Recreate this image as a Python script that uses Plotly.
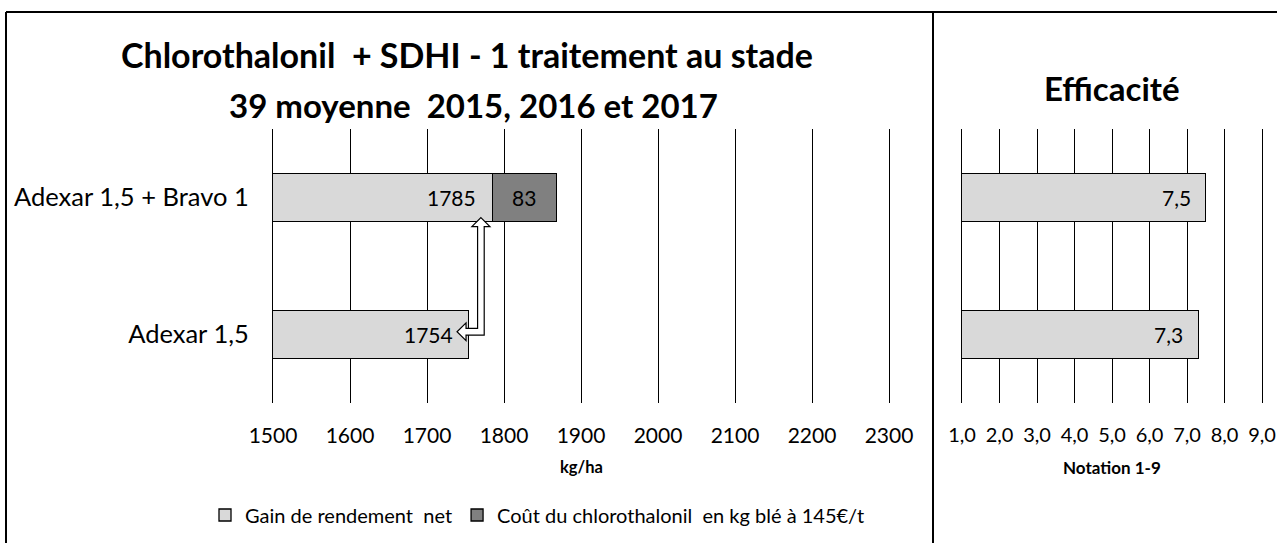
import plotly.graph_objects as go

# ---- data ----
categories = ["Adexar 1,5", "Adexar 1,5 + Bravo 1"]
gain_net = [1754, 1785]
cout_chloro = [0, 83]
efficacite = [7.3, 7.5]
x_ticks_left = [1500, 1600, 1700, 1800, 1900, 2000, 2100, 2200, 2300]
x_ticks_right = [1, 2, 3, 4, 5, 6, 7, 8, 9]

FONT = "Lato"
W, H = 1277, 543


def px(x):
    return x / W


def py(y):
    return (H - y) / H


ypos = list(range(len(categories)))

fig = go.Figure()
fig.add_trace(go.Bar(
    y=ypos, x=gain_net, orientation="h", name="Gain de rendement  net",
    marker=dict(color="#d9d9d9", line=dict(color="black", width=1.3)),
    width=0.35, xaxis="x", yaxis="y", hoverinfo="x"))
fig.add_trace(go.Bar(
    y=ypos[1:], x=cout_chloro[1:], orientation="h",
    name="Coût du chlorothalonil  en kg blé à 145€/t",
    marker=dict(color="#808080", line=dict(color="black", width=1.3)),
    width=0.35, xaxis="x", yaxis="y", hoverinfo="x"))
fig.add_trace(go.Bar(
    y=ypos, x=efficacite, orientation="h", showlegend=False,
    marker=dict(color="#d9d9d9", line=dict(color="black", width=1.3)),
    width=0.35, xaxis="x2", yaxis="y2", hoverinfo="x"))

annotations = []
# value labels
for yi, v in zip(ypos, gain_net):
    annotations.append(dict(x=v, y=yi, xref="x", yref="y", text=str(v),
                            xanchor="right", yanchor="middle", xshift=-14, showarrow=False,
                            font=dict(family=FONT, size=21, color="black")))
for yi, (g, c) in enumerate(zip(gain_net, cout_chloro)):
    if c:
        annotations.append(dict(x=g + c / 2, y=yi, xref="x", yref="y", text=str(c),
                                xanchor="center", yanchor="middle", showarrow=False,
                                font=dict(family=FONT, size=21, color="black")))
for yi, v in zip(ypos, efficacite):
    annotations.append(dict(x=v, y=yi, xref="x2", yref="y2",
                            text=f"{v:.1f}".replace(".", ","),
                            xanchor="right", yanchor="middle", xshift=-13, showarrow=False,
                            font=dict(family=FONT, size=21, color="black")))


def label(x, y, text, size):
    return dict(x=px(x), y=py(y), xref="paper", yref="paper", showarrow=False,
                xanchor="center", yanchor="middle", text=text,
                font=dict(family=FONT, size=size, color="black"))


# titles
annotations += [
    label(467, 55, "<b>Chlorothalonil  + SDHI - 1 traitement au stade</b>", 34),
    label(473, 105, "<b>39 moyenne  2015, 2016 et 2017</b>", 33),
    label(1112, 88, "<b>Efficacité</b>", 33),
    label(581, 467, "<b>kg/ha</b>", 16.5),
    label(1112, 467, "<b>Notation 1-9</b>", 17),
]

# double block arrow linking the two net gains
xc = gain_net[1] - 15      # vertical shaft centre
xl = gain_net[0] - 15      # left arrow tip
yt = ypos[1] - 0.147       # top arrow tip
yc = ypos[0] + 0.02        # horizontal shaft centre
sw_x, sw_y = 4.3, 0.024    # shaft half width
hw_x, hw_y = 11.7, 0.065   # head half width / length
yb = yt - hw_y
xh = xl + hw_x
pts = [(xc, yt), (xc + hw_x, yb), (xc + sw_x, yb), (xc + sw_x, yc - sw_y),
       (xh, yc - sw_y), (xh, yc - hw_y), (xl, yc), (xh, yc + hw_y),
       (xh, yc + sw_y), (xc - sw_x, yc + sw_y), (xc - sw_x, yb), (xc - hw_x, yb)]
path = "M " + " L ".join(f"{a},{b}" for a, b in pts) + " Z"

shapes = [
    dict(type="path", path=path, xref="x", yref="y", fillcolor="white",
         line=dict(color="black", width=1.2)),
    dict(type="line", xref="paper", yref="paper", x0=px(6), x1=1, y0=py(12), y1=py(12),
         line=dict(color="black", width=2)),
    dict(type="line", xref="paper", yref="paper", x0=px(6), x1=px(6), y0=py(12), y1=0,
         line=dict(color="black", width=2)),
    dict(type="line", xref="paper", yref="paper", x0=px(933), x1=px(933), y0=py(12), y1=0,
         line=dict(color="black", width=2)),
]

ydom = [py(403), py(129)]
grid = dict(showgrid=True, gridcolor="black", gridwidth=1.3, zeroline=False,
            showline=False, ticks="", ticklabelstandoff=18, automargin=False)
yframe = dict(showgrid=False, zeroline=False, showline=True, mirror=True,
              linecolor="black", linewidth=1.3, ticks="", automargin=False)
fig.update_layout(
    template="none",
    width=W, height=H, margin=dict(l=0, r=0, t=0, b=0, autoexpand=False),
    paper_bgcolor="white", plot_bgcolor="white",
    barmode="stack", separators=", ",
    font=dict(family=FONT, color="black"),
    xaxis=dict(domain=[px(273), px(889)], range=[1500, 2300], tickvals=x_ticks_left,
               anchor="y", tickfont=dict(family=FONT, size=21, color="black"), **grid),
    yaxis=dict(domain=ydom, range=[-0.5, 1.5], tickvals=ypos, ticktext=categories,
               ticklabelstandoff=18, tickfont=dict(family=FONT, size=25.5, color="black"),
               anchor="x", **yframe),
    xaxis2=dict(domain=[px(962), px(1262)], range=[1, 9], tickvals=x_ticks_right,
                tickformat=".1f", anchor="y2",
                tickfont=dict(family=FONT, size=20, color="black"), **grid),
    yaxis2=dict(domain=ydom, range=[-0.5, 1.5], showticklabels=False, anchor="x2",
                **yframe),
    legend=dict(orientation="h", x=px(205), xanchor="left", y=py(515), yanchor="middle",
                font=dict(family=FONT, size=20, color="black"), traceorder="normal",
                bgcolor="rgba(0,0,0,0)", borderwidth=0),
    annotations=annotations, shapes=shapes, showlegend=True,
)

fig.write_html(
    "out.html",
    config={"displayModeBar": False},
    post_script="document.body.style.margin='0px';document.body.style.overflow='hidden';",
)
